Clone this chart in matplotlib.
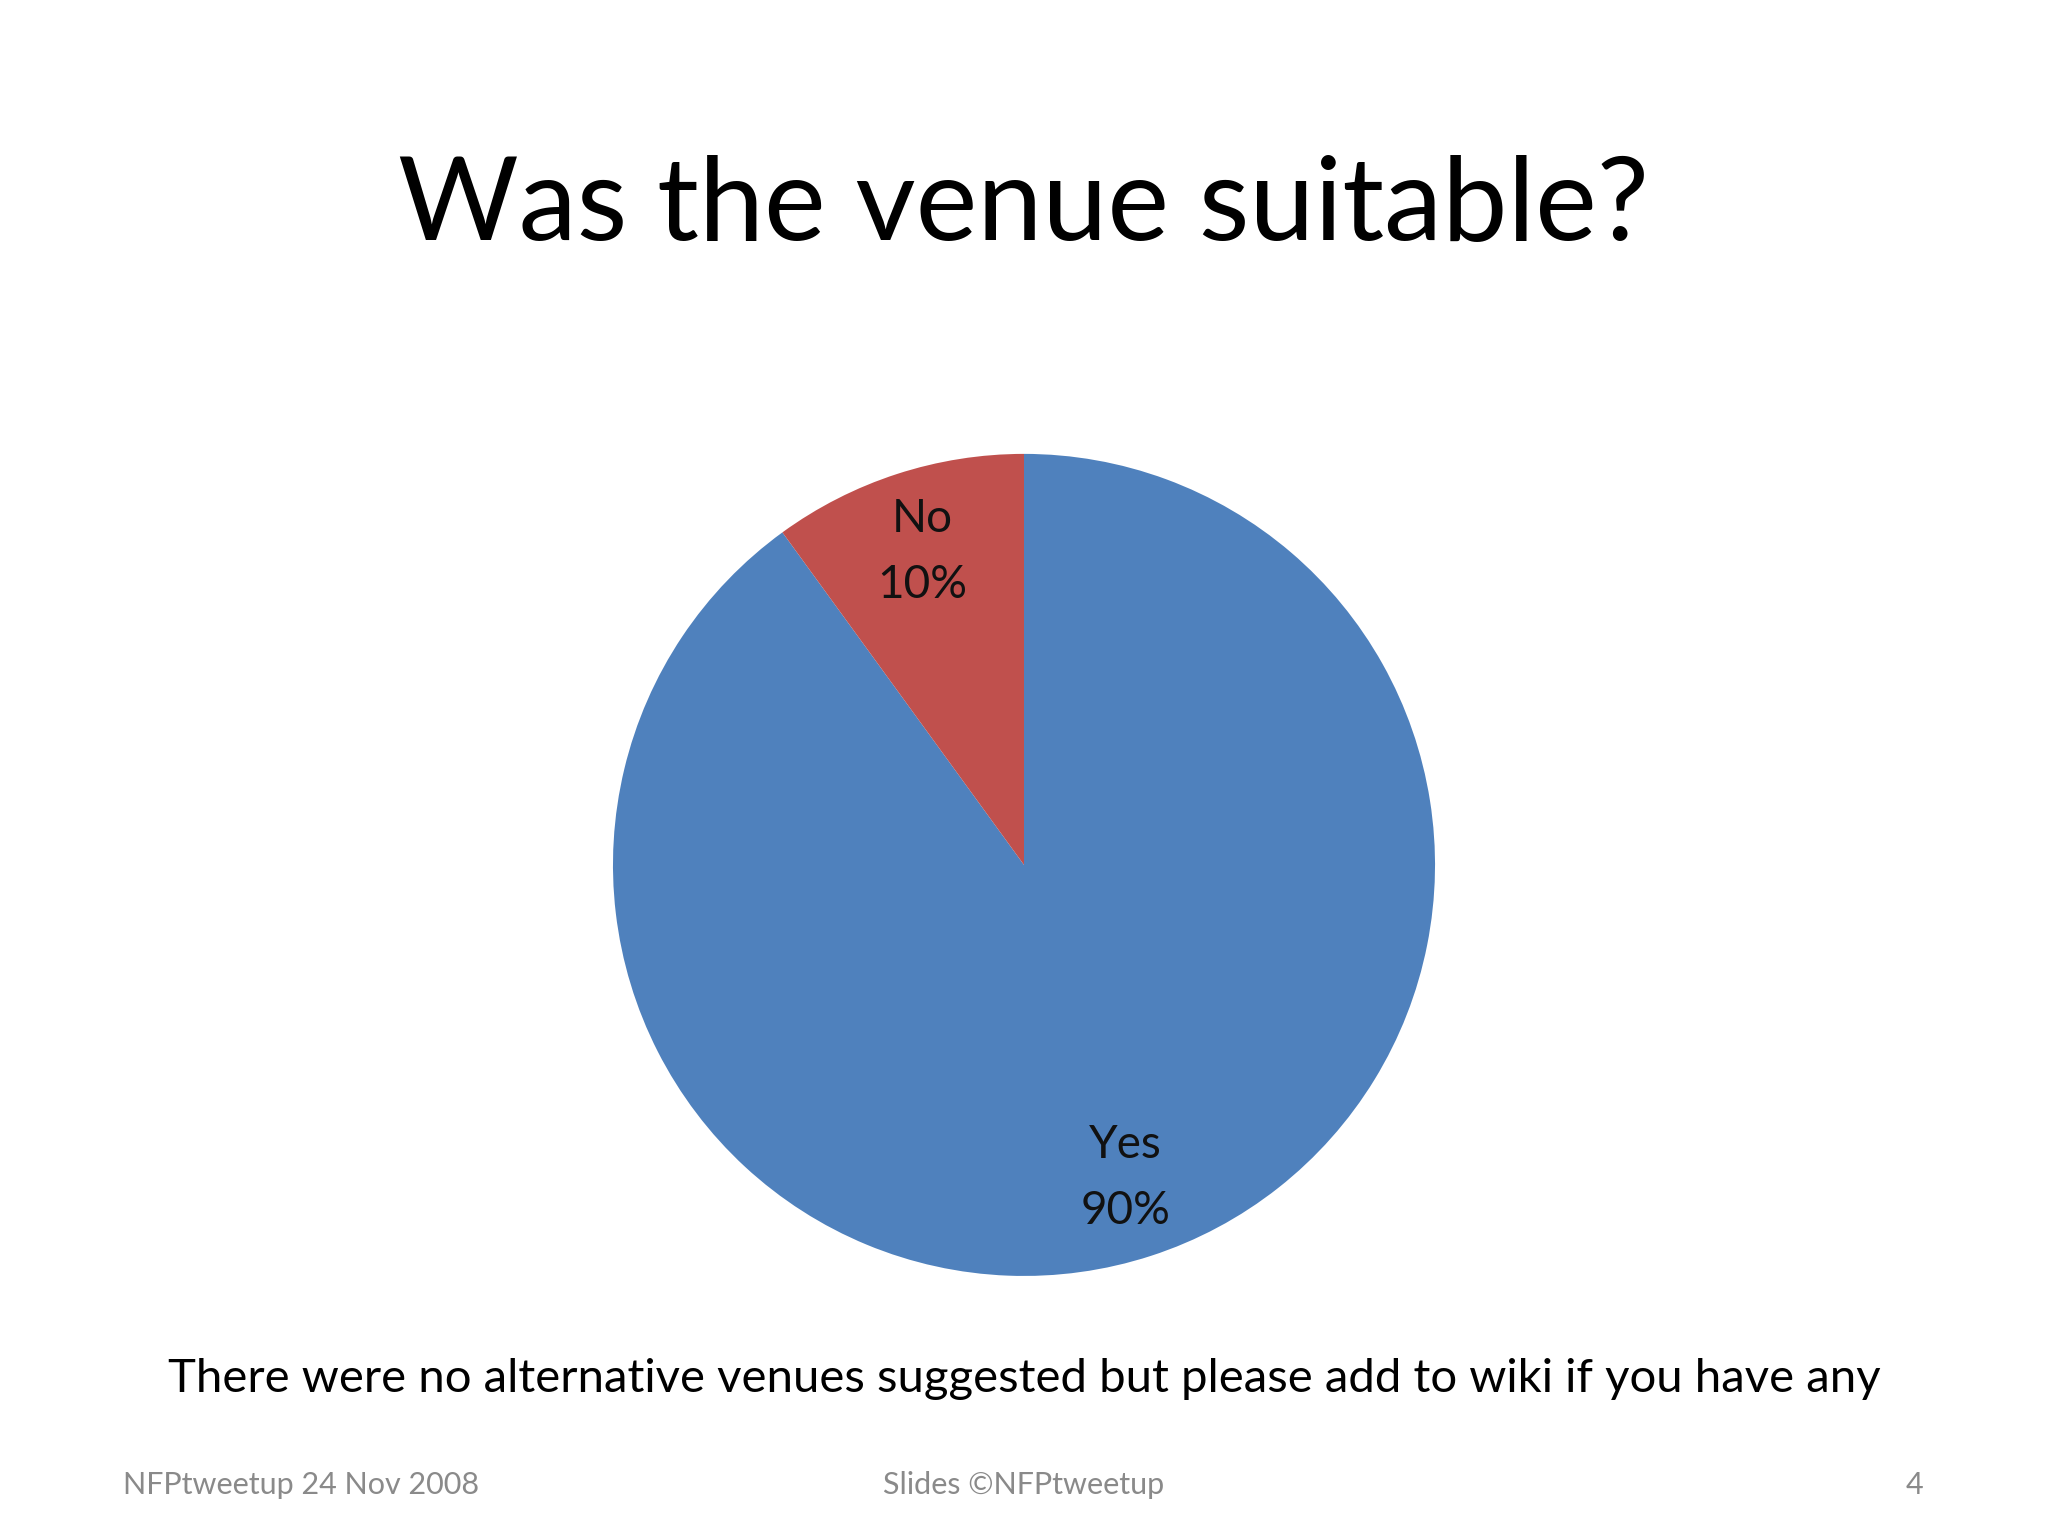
import matplotlib
matplotlib.use('Agg')
from matplotlib import pyplot as plt

title = 'Was the venue suitable?'
note = 'There were no alternative venues suggested but please add to wiki if you have any'
footer_left = 'NFPtweetup 24 Nov 2008'
footer_mid = 'Slides \u00a9NFPtweetup'
footer_right = '4'

categories = ['Yes', 'No']
values = [90, 10]
colors = ['#4F81BD', '#C0504D']

plt.rcParams['font.family'] = ['Lato', 'DejaVu Sans']

fig = plt.figure(figsize=(20.48, 15.36), dpi=100)
fig.patch.set_facecolor('white')

ax = fig.add_axes([0.2993, 0.1693, 0.4014, 0.5352])
total = sum(values)
labels = ['{}\n{:.0f}%'.format(c, v / total * 100) for c, v in zip(categories, values)]
wedges, texts = ax.pie(values, colors=colors, labels=labels, startangle=90,
                       counterclock=False, radius=1, labeldistance=0.8,
                       wedgeprops=dict(linewidth=0))
for t in texts:
    t.set_horizontalalignment('center')
    t.set_verticalalignment('center')
    t.set_fontsize(33)
    t.set_color('#111111')
    t.set_linespacing(1.7)
ax.set_xlim(-1, 1)
ax.set_ylim(-1, 1)
ax.set_aspect('equal')
ax.axis('off')

fig.text(0.5, 0.865, title, ha='center', va='center', fontsize=84, color='black')
fig.text(0.5, 0.102, note, ha='center', va='center', fontsize=34, color='black')

fig.text(0.060, 0.033, footer_left, ha='left', va='center', fontsize=22, color='#8a8a8a')
fig.text(0.5, 0.033, footer_mid, ha='center', va='center', fontsize=22, color='#8a8a8a')
fig.text(0.939, 0.033, footer_right, ha='right', va='center', fontsize=22, color='#8a8a8a')

fig.savefig('out.png', dpi=100, facecolor='white')
